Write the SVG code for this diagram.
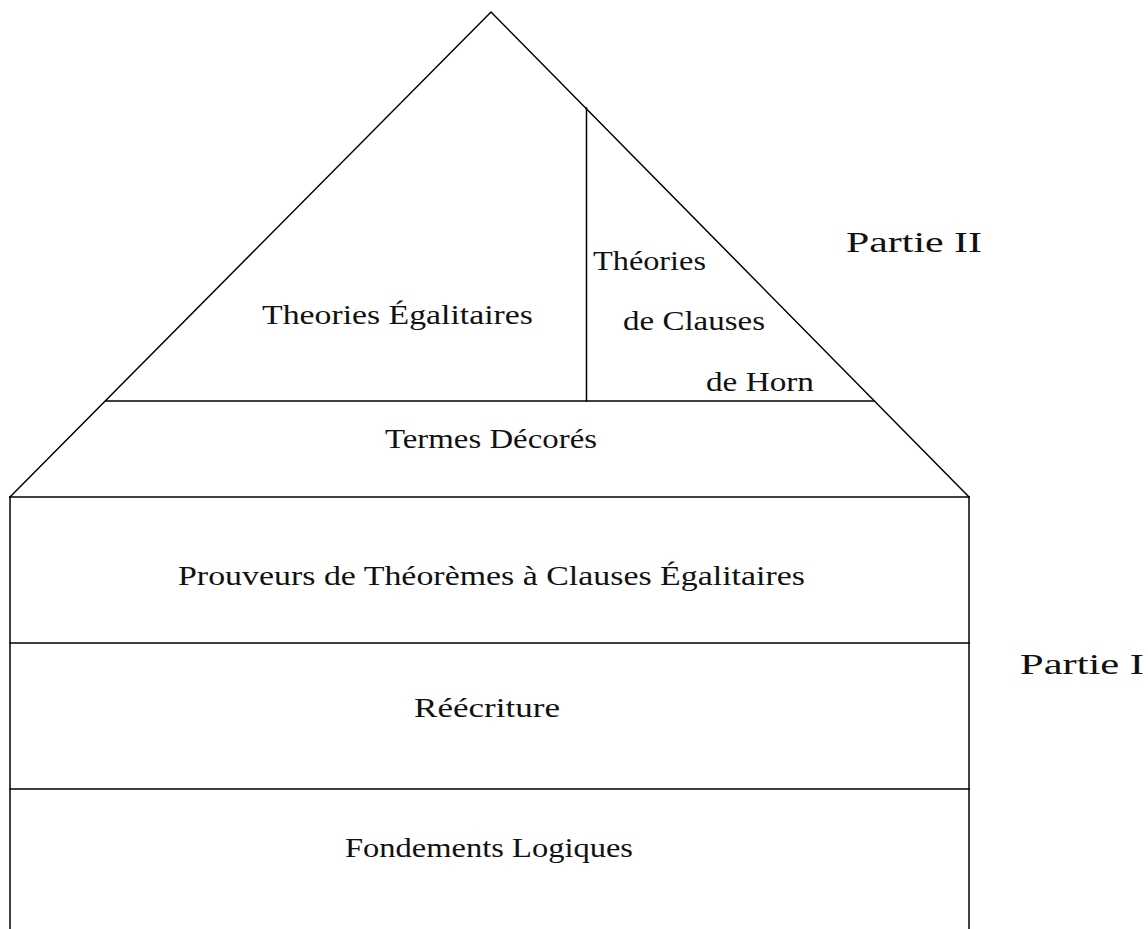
<svg xmlns="http://www.w3.org/2000/svg" width="1148" height="929" viewBox="0 0 1148 929">
<style>
.ln{stroke:#000;stroke-width:1.5;fill:none;stroke-linecap:square}
.t{font-family:"Liberation Serif","DejaVu Serif",serif;font-size:27px;fill:#111}
.p{font-family:"Liberation Serif","DejaVu Serif",serif;font-size:30px;fill:#111}
</style>
<rect width="1148" height="929" fill="#fff"/>
<g id="connectors">
<polyline class="ln" points="10,497 491,12 969,497"/>
<line class="ln" x1="106" y1="401" x2="874" y2="401"/>
<line class="ln" x1="586.5" y1="108" x2="586.5" y2="401"/>
<line class="ln" x1="10" y1="497" x2="969" y2="497"/>
<line class="ln" x1="10" y1="643" x2="969" y2="643"/>
<line class="ln" x1="10" y1="789" x2="969" y2="789"/>
<line class="ln" x1="10" y1="497" x2="10" y2="932"/>
<line class="ln" x1="969" y1="497" x2="969" y2="932"/>
</g>
<g id="theories-egalitaires"><text class="t" x="262" y="324" textLength="271" lengthAdjust="spacingAndGlyphs">Theories Égalitaires</text></g>
<g id="theories-horn">
<text class="t" x="593" y="270" textLength="113" lengthAdjust="spacingAndGlyphs">Théories</text>
<text class="t" x="623" y="330" textLength="142" lengthAdjust="spacingAndGlyphs">de Clauses</text>
<text class="t" x="706" y="391" textLength="108" lengthAdjust="spacingAndGlyphs">de Horn</text>
</g>
<g id="termes-decores"><text class="t" x="385" y="448" textLength="212" lengthAdjust="spacingAndGlyphs">Termes Décorés</text></g>
<g id="prouveurs"><text class="t" x="178" y="585" textLength="627" lengthAdjust="spacingAndGlyphs">Prouveurs de Théorèmes à Clauses Égalitaires</text></g>
<g id="reecriture"><text class="t" x="414" y="717" textLength="146" lengthAdjust="spacingAndGlyphs">Réécriture</text></g>
<g id="fondements"><text class="t" x="345" y="857" textLength="288" lengthAdjust="spacingAndGlyphs">Fondements Logiques</text></g>
<g id="partie-ii"><text class="p" x="846" y="252" textLength="136" lengthAdjust="spacingAndGlyphs">Partie II</text></g>
<g id="partie-i"><text class="p" x="1020" y="674" textLength="124" lengthAdjust="spacingAndGlyphs">Partie I</text></g>
</svg>
